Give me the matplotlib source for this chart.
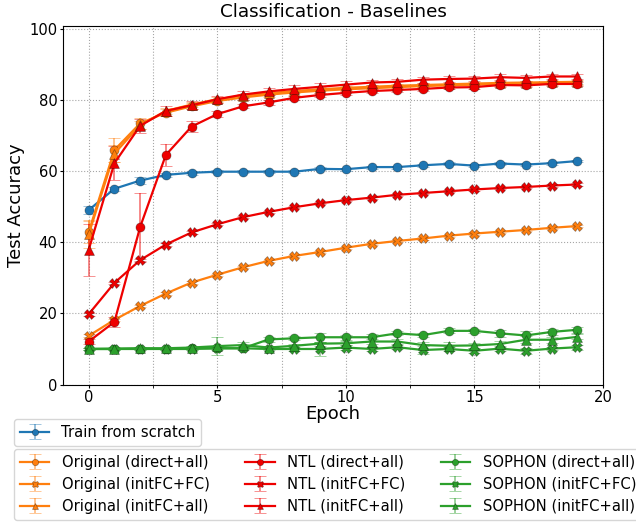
import matplotlib.pyplot as plt
from matplotlib.ticker import MultipleLocator

epochs = list(range(20))

# test accuracy per epoch (mean, std)
scratch = [49.1, 55.1, 57.4, 59.0, 59.6, 59.9, 59.9, 59.9, 59.9, 60.7,
           60.6, 61.2, 61.2, 61.7, 62.1, 61.6, 62.2, 61.9, 62.3, 62.9]
scratch_err = [1.2, 0.6, 0.9, 0.6, 0.5, 0.4, 0.4, 0.4, 0.4, 0.4,
               0.4, 0.4, 0.4, 0.4, 0.4, 0.4, 0.4, 0.4, 0.4, 0.4]

orig_direct_all = [42.9, 66.0, 73.5, 76.5, 78.3, 79.8, 80.8, 81.6, 82.2, 82.7,
                   83.1, 83.4, 83.7, 84.0, 84.2, 84.4, 84.6, 84.6, 84.8, 84.9]
orig_direct_all_err = [3.0, 3.5, 1.5, 1.0, 0.8, 0.7, 0.6, 0.6, 0.6, 0.6,
                       0.5, 0.5, 0.5, 0.5, 0.5, 0.5, 0.5, 0.5, 0.5, 0.5]
orig_fc_fc = [13.7, 18.2, 22.1, 25.6, 28.7, 30.9, 33.0, 34.8, 36.2, 37.3,
              38.5, 39.6, 40.4, 41.1, 41.9, 42.5, 43.0, 43.5, 44.1, 44.6]
orig_fc_fc_err = [0.4, 0.3, 0.3, 0.3, 0.3, 0.3, 0.3, 0.3, 0.3, 0.3,
                  0.3, 0.3, 0.3, 0.3, 0.3, 0.3, 0.3, 0.3, 0.3, 0.3]
orig_fc_all = [42.3, 65.0, 73.0, 77.0, 78.8, 80.3, 81.3, 82.0, 82.6, 83.1,
               83.5, 83.8, 84.1, 84.3, 84.5, 84.7, 84.9, 85.0, 85.1, 85.2]
orig_fc_all_err = [4.0, 2.5, 1.2, 0.9, 0.8, 0.7, 0.6, 0.6, 0.6, 0.6,
                   0.5, 0.5, 0.5, 0.5, 0.5, 0.5, 0.5, 0.5, 0.5, 0.5]

ntl_direct_all = [12.1, 17.6, 44.3, 64.6, 72.6, 76.1, 78.3, 79.4, 80.7, 81.5,
                  82.1, 82.6, 82.9, 83.2, 83.6, 83.7, 84.3, 84.2, 84.6, 84.6]
ntl_direct_all_err = [0.8, 1.5, 9.7, 3.0, 1.5, 0.8, 0.6, 0.6, 0.6, 0.6,
                      0.5, 0.5, 0.5, 0.5, 0.5, 0.5, 0.5, 0.5, 0.5, 0.5]
ntl_fc_fc = [19.8, 28.6, 35.0, 39.4, 42.8, 45.1, 47.1, 48.6, 49.9, 51.0,
             51.9, 52.6, 53.4, 53.9, 54.4, 54.9, 55.3, 55.6, 56.0, 56.3]
ntl_fc_fc_err = [0.4, 0.3, 0.3, 0.3, 0.3, 0.3, 0.3, 0.3, 0.3, 0.3,
                 0.3, 0.3, 0.3, 0.3, 0.3, 0.3, 0.3, 0.3, 0.3, 0.3]
ntl_fc_all = [37.9, 62.3, 72.8, 77.0, 78.6, 80.3, 81.6, 82.5, 83.2, 83.8,
              84.4, 85.0, 85.2, 85.8, 86.0, 86.1, 86.5, 86.3, 86.7, 86.7]
ntl_fc_all_err = [7.3, 4.8, 2.0, 1.3, 1.1, 1.0, 1.0, 1.0, 1.0, 1.0,
                  0.9, 0.8, 0.8, 0.8, 0.8, 0.8, 0.8, 0.8, 0.8, 0.8]

sophon_direct_all = [10.0, 10.1, 10.1, 10.0, 10.2, 10.2, 10.2, 12.7, 13.0, 13.3,
                     13.3, 13.3, 14.4, 13.9, 15.1, 15.1, 14.4, 13.8, 14.8, 15.4]
sophon_direct_all_err = [0.4, 0.4, 0.4, 0.4, 0.4, 0.4, 0.4, 0.8, 0.6, 1.2,
                         0.7, 1.0, 0.6, 0.6, 0.7, 0.6, 0.9, 1.2, 0.9, 0.9]
sophon_fc_fc = [10.0, 10.0, 10.0, 10.0, 10.0, 10.2, 10.2, 10.0, 10.0, 10.0,
                10.4, 10.0, 10.5, 9.7, 10.0, 9.5, 10.1, 9.5, 10.1, 10.5]
sophon_fc_fc_err = [0.3, 0.3, 0.3, 0.3, 0.3, 0.3, 0.3, 0.3, 0.5, 2.0,
                    0.6, 0.6, 0.5, 1.0, 0.5, 0.7, 0.6, 0.9, 0.5, 0.7]
sophon_fc_all = [10.0, 10.0, 10.2, 10.2, 10.4, 10.8, 11.1, 10.4, 10.9, 11.5,
                 11.6, 12.1, 12.1, 11.1, 10.9, 11.0, 11.4, 12.6, 12.6, 13.4]
sophon_fc_all_err = [0.3, 0.3, 0.3, 0.3, 0.5, 2.5, 0.8, 0.5, 0.6, 0.6,
                     0.6, 0.8, 0.6, 1.0, 1.0, 0.8, 0.9, 1.0, 0.8, 0.7]

blue = '#1f77b4'
orange = '#ff7f0e'
red = '#ee0000'
green = '#2ca02c'

series = [
    ('Train from scratch', scratch, scratch_err, blue, 'o'),
    ('Original (direct+all)', orig_direct_all, orig_direct_all_err, orange, 'o'),
    ('Original (initFC+FC)', orig_fc_fc, orig_fc_fc_err, orange, 'X'),
    ('Original (initFC+all)', orig_fc_all, orig_fc_all_err, orange, '^'),
    ('NTL (direct+all)', ntl_direct_all, ntl_direct_all_err, red, 'o'),
    ('NTL (initFC+FC)', ntl_fc_fc, ntl_fc_fc_err, red, 'X'),
    ('NTL (initFC+all)', ntl_fc_all, ntl_fc_all_err, red, '^'),
    ('SOPHON (direct+all)', sophon_direct_all, sophon_direct_all_err, green, 'o'),
    ('SOPHON (initFC+FC)', sophon_fc_fc, sophon_fc_fc_err, green, 'X'),
    ('SOPHON (initFC+all)', sophon_fc_all, sophon_fc_all_err, green, '^'),
]

fig = plt.figure(figsize=(6.36, 5.22), dpi=100)
ax = fig.add_axes([0.099, 0.2634, 0.849, 0.6874])

handles = []
for label, vals, err, color, marker in series:
    h = ax.errorbar(epochs, vals, yerr=err, label=label, color=color,
                    marker=marker, markersize=6.5, linewidth=1.6,
                    markeredgecolor=(0, 0, 0, 0.35), markeredgewidth=0.6,
                    ecolor=color, elinewidth=1.3, capsize=4, capthick=1.3)
    for part in h[1] + h[2]:
        part.set_alpha(0.5)
    handles.append(h)

ax.set_xlim(-1, 20)
ax.set_ylim(0, 101)
ax.xaxis.set_major_locator(MultipleLocator(5))
ax.xaxis.set_minor_locator(MultipleLocator(2.5))
ax.yaxis.set_major_locator(MultipleLocator(20))
ax.grid(True, which='both', axis='x', linestyle=':', color='gray', alpha=0.7)
ax.grid(True, which='major', axis='y', linestyle=':', color='gray', alpha=0.7)
ax.tick_params(which='major', labelsize=10.6, length=2.5, pad=1.5)
ax.tick_params(which='minor', length=1.8)
ax.set_title('Classification - Baselines', fontsize=13.2)
ax.set_xlabel('Epoch', fontsize=13, labelpad=0)
ax.set_ylabel('Test Accuracy', fontsize=13, labelpad=3)

fig.legend(handles=handles[:1], loc='upper left', fontsize=10.6,
           bbox_to_anchor=(14 / 636, 1 - 419 / 522), borderaxespad=0,
           markerscale=0.7)
fig.legend(handles=handles[1:], loc='upper left', ncol=3, fontsize=10.6,
           bbox_to_anchor=(14 / 636, 1 - 449 / 522), borderaxespad=0,
           markerscale=0.7, labelspacing=0.47, columnspacing=2.4,
           handletextpad=0.85)

fig.savefig('out.png', dpi=100)
